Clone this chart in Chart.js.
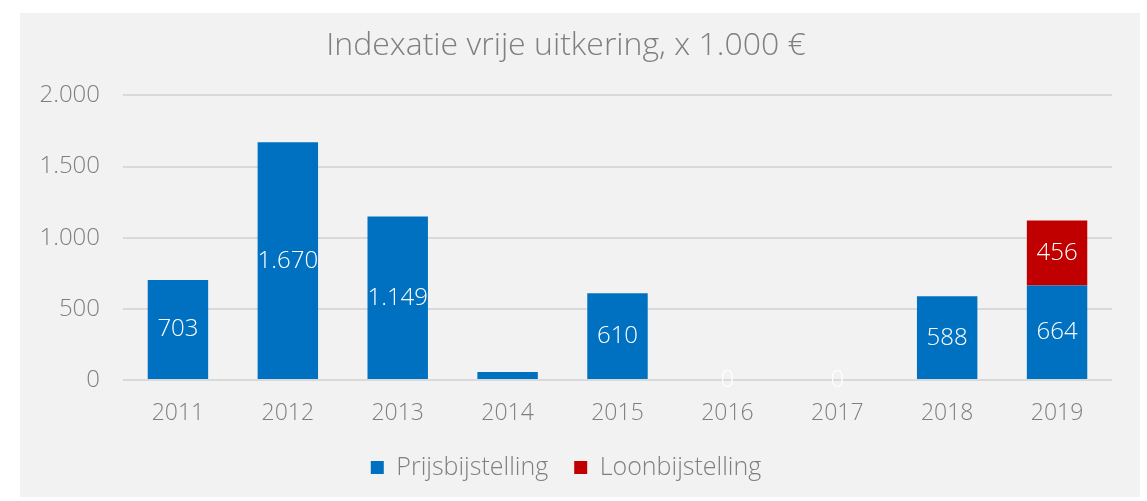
<!DOCTYPE html>
<html>
<head>
<meta charset="utf-8">
<script src="https://cdn.jsdelivr.net/npm/chart.js@4.4.0/dist/chart.umd.min.js"></script>
<style>
  html, body { margin: 0; padding: 0; background: #ffffff; }
  #wrap { position: absolute; left: 20px; top: 13px; width: 1120px; height: 484px; background: #f2f2f2; }
</style>
</head>
<body>
<div id="wrap"><canvas id="indexChart"></canvas></div>
<script>
const years = ['2011', '2012', '2013', '2014', '2015', '2016', '2017', '2018', '2019'];
const prijsbijstelling = [703, 1670, 1149, 57, 610, 0, 0, 588, 664];
const loonbijstelling = [null, null, null, null, null, null, null, null, 456];
const hiddenLabels = ['2014'];
const yTicks = [0, 500, 1000, 1500, 2000];

const FONT = '"Open Sans", "DejaVu Sans", sans-serif';
const GREY = '#7f7f7f';

function fmt(v) {
    return String(v).replace(/\B(?=(\d{3})+(?!\d))/g, '.');
}

// draws the white value labels in the middle of each bar
const barLabels = {
    id: 'barLabels',
    afterDatasetsDraw(chart) {
        const ctx = chart.ctx;
        ctx.save();
        ctx.font = '300 24px ' + FONT;
        ctx.fillStyle = '#ffffff';
        ctx.textAlign = 'center';
        ctx.textBaseline = 'middle';
        chart.data.datasets.forEach((ds, i) => {
            chart.getDatasetMeta(i).data.forEach((bar, j) => {
                const v = ds.data[j];
                if (v === null || hiddenLabels.includes(years[j])) return;
                ctx.fillText(fmt(v), bar.x, (bar.y + bar.base) / 2);
            });
        });
        ctx.restore();
    }
};

new Chart(document.getElementById('indexChart').getContext('2d'), {
    type: 'bar',
    data: {
        labels: years,
        datasets: [{
            label: 'Prijsbijstelling',
            data: prijsbijstelling,
            backgroundColor: '#0070c0',
            categoryPercentage: 0.55,
            barPercentage: 1
        }, {
            label: 'Loonbijstelling',
            data: loonbijstelling,
            backgroundColor: '#c00000',
            categoryPercentage: 0.55,
            barPercentage: 1
        }]
    },
    options: {
        responsive: true,
        maintainAspectRatio: false,
        animation: false,
        layout: { padding: { left: 0, right: 28, top: 0, bottom: 7 } },
        plugins: {
            title: {
                display: true,
                text: 'Indexatie vrije uitkering, x 1.000 €',
                color: GREY,
                font: { family: FONT, size: 32, weight: '300' },
                padding: { top: 14, bottom: 30 }
            },
            legend: {
                position: 'bottom',
                labels: {
                    color: GREY,
                    font: { family: FONT, size: 25, weight: '300' },
                    boxWidth: 13,
                    boxHeight: 13,
                    padding: 26
                }
            },
            tooltip: { enabled: false }
        },
        scales: {
            x: {
                stacked: true,
                grid: { display: false, drawTicks: false },
                border: { display: false },
                afterFit: s => { s.height = 49; },
                ticks: { color: GREY, font: { family: FONT, size: 23, weight: '300' }, padding: 20 }
            },
            y: {
                stacked: true,
                min: 0,
                max: 2000,
                afterBuildTicks: s => { s.ticks = yTicks.map(v => ({ value: v })); },
                afterFit: s => { s.width = 103; },
                grid: { color: '#d9d9d9', lineWidth: 2, drawTicks: false },
                border: { display: false },
                ticks: {
                    color: GREY,
                    font: { family: FONT, size: 24, weight: '300' },
                    padding: 23,
                    callback: v => fmt(v)
                }
            }
        }
    },
    plugins: [barLabels]
});
</script>
</body>
</html>
